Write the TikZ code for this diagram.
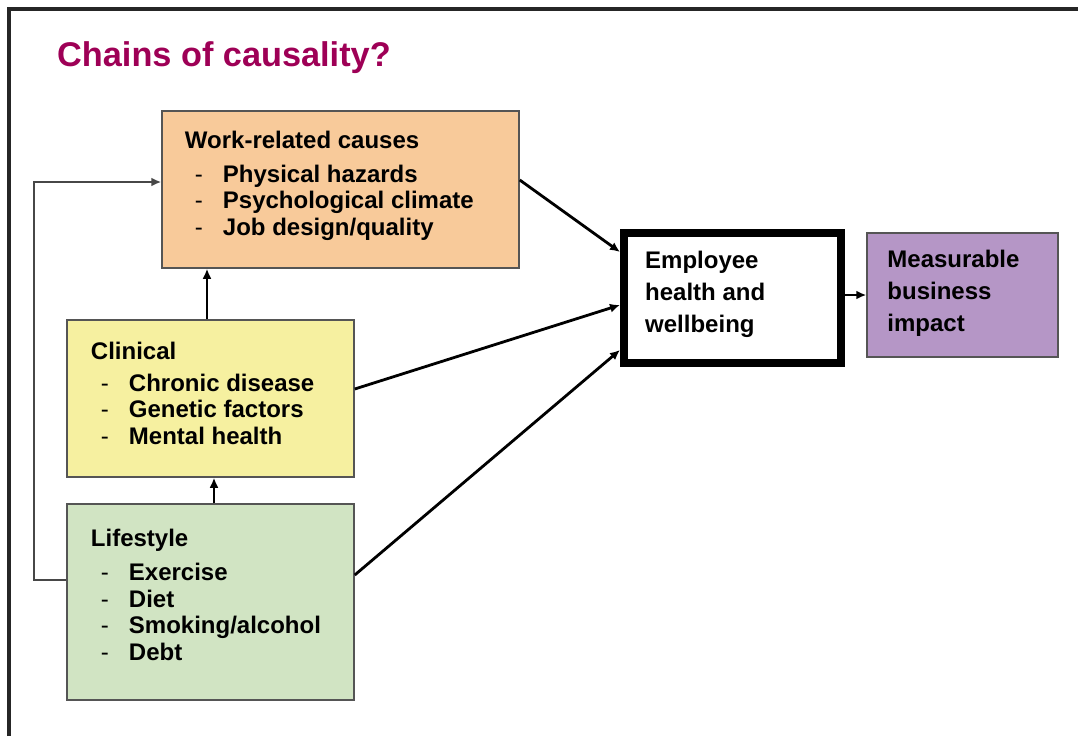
\documentclass[tikz,border=0pt]{standalone}
\usepackage{fontspec}
\setmainfont{Liberation Sans}
\usetikzlibrary{arrows.meta}

\definecolor{bordeaux}{RGB}{158,0,86}
\definecolor{peche}{RGB}{248,202,154}
\definecolor{jaune}{RGB}{246,240,160}
\definecolor{vertpale}{RGB}{209,228,195}
\definecolor{mauve}{RGB}{181,150,198}
\definecolor{bord}{RGB}{85,85,85}

\newcommand\tiret[1]{\makebox[38pt][l]{\hspace{10pt}\mdseries -}#1}

\begin{document}
\begin{tikzpicture}[x=1pt,y=-1pt,
    boite/.style={draw=bord,line width=1.5pt,inner sep=0pt},
    texte/.style={font=\fontsize{24}{26.5}\selectfont\bfseries,align=left,inner sep=0pt,anchor=base west},
    fleche/.style={line width=2.8pt,-{Latex[length=10pt,width=9pt]}}]
    \useasboundingbox (0,0) rectangle (1078,736);
    % cadre et titre
    \draw[line width=3.5pt,black!85] (9,736) -- (9,9) -- (1078,9);
    \node[texte,text=bordeaux,font=\fontsize{34.3}{40}\selectfont\bfseries] (titre) at (57,66) {Chains of causality?};
    % les boites
    \node[boite,fill=peche,minimum width=357pt,minimum height=157pt] (work) at (340.5,189.5) {};
    \node[boite,fill=jaune,minimum width=287pt,minimum height=157pt] (clin) at (210.5,398.5) {};
    \node[boite,fill=vertpale,minimum width=287pt,minimum height=196pt] (life) at (210.5,602) {};
    \node[draw,line width=8pt,fill=white,minimum width=217pt,minimum height=130pt] (emp) at (732.5,298) {};
    \node[boite,fill=mauve,minimum width=191pt,minimum height=124pt] (meas) at (962.5,295) {};
    % les textes (base = derniere ligne)
    \node[texte] (worktxt) at ([shift={(23.5pt,-124.75pt)}]work.north west) {Work-related causes\\[7.5pt]
      \tiret{Physical hazards}\\ \tiret{Psychological climate}\\ \tiret{Job design/quality}};
    \node[texte] (clintxt) at ([shift={(24.5pt,-124.75pt)}]clin.north west) {Clinical\\[5.5pt]
      \tiret{Chronic disease}\\ \tiret{Genetic factors}\\ \tiret{Mental health}};
    \node[texte] (lifetxt) at ([shift={(24.5pt,-156.75pt)}]life.north west) {Lifestyle\\[7.5pt]
      \tiret{Exercise}\\ \tiret{Diet}\\ \tiret{Smoking/alcohol}\\ \tiret{Debt}};
    \node[texte,font=\fontsize{24}{32}\selectfont\bfseries] (emptxt) at ([shift={(25pt,-103pt)}]emp.north west) {Employee\\ health and\\ wellbeing};
    \node[texte,font=\fontsize{24}{32}\selectfont\bfseries] (meastxt) at ([shift={(21pt,-99pt)}]meas.north west) {Measurable\\ business\\ impact};
    % les fleches
    \draw[fleche] ([xshift=-3.5pt]clin.north) -- ([xshift=-3.5pt]clin.north |- work.south);
    \draw[fleche] ([xshift=3.5pt]life.north) -- ([xshift=3.5pt]life.north |- clin.south);
    \coordinate (retour) at (34,400);
    \draw[fleche,black!72,line width=2.3pt] ([yshift=22pt]life.west) -| (retour) |- ([yshift=7.5pt]work.west);
    \draw[fleche] ([yshift=9.5pt]work.east) -- ([yshift=46pt]emp.west);
    \draw[fleche] ([yshift=9.5pt]clin.east) -- ([yshift=-7pt]emp.west);
    \draw[fleche] ([yshift=27pt]life.east) -- ([yshift=-52pt]emp.west);
    \draw[fleche] (emp.east |- meas.west) -- (meas.west);
\end{tikzpicture}
\end{document}
